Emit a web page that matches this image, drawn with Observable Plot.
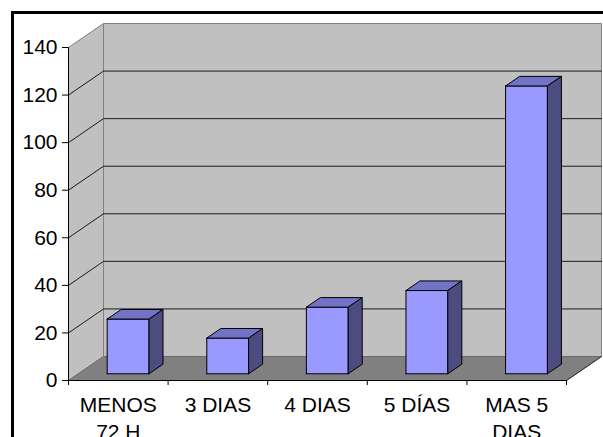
<!DOCTYPE html>
<html><head><meta charset="utf-8">
<script src="https://cdn.jsdelivr.net/npm/d3@7"></script>
<script src="https://cdn.jsdelivr.net/npm/@observablehq/plot@0.6"></script>
<style>
html,body{margin:0;padding:0;background:#fff;overflow:hidden;}
#wrap{position:relative;width:603px;height:437px;overflow:hidden;}
#frame{position:absolute;left:11px;top:11px;width:700px;height:600px;border-left:3px solid #000;border-top:3px solid #000;}
#chart{position:absolute;left:0;top:0;}
</style></head><body>
<div id="wrap"><div id="frame"></div><div id="chart"></div></div>
<script>
const categories = ["MENOS\n72 H", "3 DIAS", "4 DIAS", "5 DÍAS", "MAS 5\nDIAS"];
const values = [23, 15, 28, 35, 121];
const yTicks = [0, 20, 40, 60, 80, 100, 120, 140];

const W = 603, H = 437, mL = 68, mR = 37, mT = 47, mB = 57;
const n = categories.length, yMax = yTicks[yTicks.length - 1];
const kx = (W - mL - mR) / n, ky = (H - mT - mB) / yMax;
const DX = 35 / kx, DY = 24 / ky; // wall depth in data units
const P = (x, y, z) => [x + z * DX, y + z * DY];

function polys(list) {
  const out = [];
  list.forEach((pts, id) => {
    pts.concat([pts[0]]).forEach(p => out.push({id, x: p[0], y: p[1]}));
  });
  return out;
}
function paths(list) {
  const out = [];
  list.forEach((pts, id) => pts.forEach(p => out.push({id, x: p[0], y: p[1]})));
  return out;
}

const backWall = polys([[P(0,0,1), P(n,0,1), P(n,yMax,1), P(0,yMax,1)]]);
const sideWall = polys([[P(0,0,0), P(0,0,1), P(0,yMax,1), P(0,yMax,0)]]);
const floor = polys([[P(0,0,0), P(n,0,0), P(n,0,1), P(0,0,1)]]);
const grid = paths(yTicks.filter(t => t > 0 && t < yMax).map(t => [P(0,t,0), P(0,t,1), P(n,t,1)]));
const floorEdge = paths([[P(n,0,0), P(n,0,1)]]);

const z0 = 0.28, z1 = 0.68, b0 = 0.29, b1 = 0.71;
const fronts = polys(values.map((v, i) => [P(i+b0,0,z0), P(i+b1,0,z0), P(i+b1,v,z0), P(i+b0,v,z0)]));
const tops = polys(values.map((v, i) => [P(i+b0,v,z0), P(i+b1,v,z0), P(i+b1,v,z1), P(i+b0,v,z1)]));
const sides = polys(values.map((v, i) => [P(i+b1,0,z0), P(i+b1,0,z1), P(i+b1,v,z1), P(i+b1,v,z0)]));

const face = (data, fill, stroke, sw = 1) =>
  Plot.line(data, {x: "x", y: "y", z: "id", fill, stroke, strokeWidth: sw, strokeLinejoin: "miter"});

const chart = Plot.plot({
  width: W, height: H,
  marginLeft: mL, marginRight: mR, marginTop: mT, marginBottom: mB,
  style: {fontFamily: "'Liberation Sans', Arial, sans-serif", fontSize: "21px", background: "transparent", color: "#000"},
  x: {domain: [0, n], label: null},
  y: {domain: [0, yMax], label: null},
  marks: [
    face(backWall, "#c0c0c0", "#808080"),
    face(sideWall, "#c0c0c0", "#808080"),
    Plot.line(grid, {x: "x", y: "y", z: "id", stroke: "#1a1a1a", strokeWidth: 1}),
    face(floor, "#808080", "#6a6a6a"),
    Plot.line(floorEdge, {x: "x", y: "y", z: "id", stroke: "#303030", strokeWidth: 1}),
    Plot.ruleY([0], {x1: 0, x2: n, stroke: "#000"}),
    Plot.ruleX([0], {y1: 0, y2: yMax, stroke: "#000"}),
    Plot.axisY({ticks: yTicks, tickSize: 6, tickPadding: 5, fontSize: 21, tickFormat: d => String(d)}),
    Plot.axisX({ticks: d3.range(n + 1), tickSize: 5, tickFormat: () => ""}),
    Plot.axisX({ticks: categories.map((_, i) => i + 0.5), tickSize: 0, tickPadding: 12, fontSize: 21,
      lineHeight: 1.3, tickFormat: d => categories[Math.floor(d)]}),
    face(fronts, "#9999ff", "#000"),
    face(tops, "#7272c6", "#000"),
    face(sides, "#4c4c80", "#000")
  ]
});
document.getElementById("chart").appendChild(chart);
</script>
</body></html>
